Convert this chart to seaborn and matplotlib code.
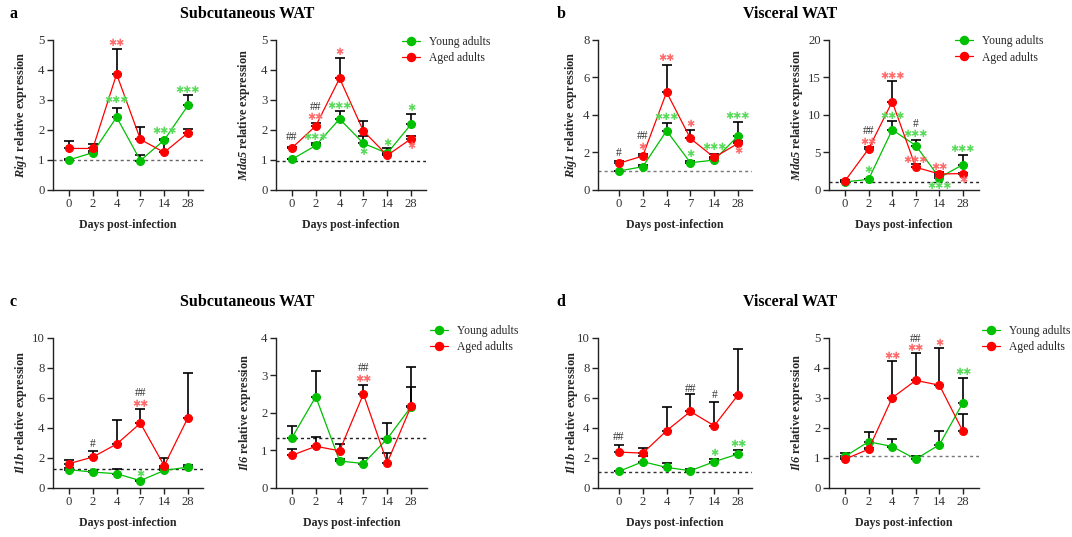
import numpy as np
import pandas as pd
import matplotlib
matplotlib.use("Agg")
import matplotlib.pyplot as plt
from matplotlib.lines import Line2D
import seaborn as sns

sns.set_style("ticks")
plt.rcParams["font.family"] = ["Liberation Serif", "DejaVu Sans"]
plt.rcParams["mathtext.fontset"] = "custom"
plt.rcParams["mathtext.rm"] = "Liberation Serif"
plt.rcParams["mathtext.it"] = "Liberation Serif:italic"
plt.rcParams["mathtext.bf"] = "Liberation Serif:bold"
plt.rcParams["mathtext.bfit"] = "Liberation Serif:italic:bold"

# ---------------------------------------------------------------- data
days = ["0", "2", "4", "7", "14", "28"]
groups = ["Young adults", "Aged adults"]

# Rig1, subcutaneous WAT
rig1_sc_young = [1.00, 1.24, 2.42, 0.98, 1.66, 2.81]
rig1_sc_young_err = [0.02, 0.04, 0.32, 0.17, 0.05, 0.33]
rig1_sc_aged = [1.38, 1.38, 3.85, 1.68, 1.25, 1.90]
rig1_sc_aged_err = [0.26, 0.14, 0.85, 0.40, 0.40, 0.11]
rig1_sc_base = 1.00
rig1_sc_marks = [("4", "**", 4.89, "r"), ("4", "***", 2.99, "g"),
                 ("14", "***", 1.97, "g"), ("28", "***", 3.32, "g")]

# Mda5, subcutaneous WAT
mda5_sc_young = [1.02, 1.48, 2.36, 1.55, 1.22, 2.18]
mda5_sc_young_err = [0.02, 0.09, 0.26, 0.24, 0.16, 0.36]
mda5_sc_aged = [1.40, 2.13, 3.71, 1.96, 1.15, 1.70]
mda5_sc_aged_err = [0.03, 0.10, 0.69, 0.32, 0.05, 0.11]
mda5_sc_base = 0.98
mda5_sc_marks = [("0", "##", 1.77, "h"), ("2", "##", 2.76, "h"), ("2", "**", 2.42, "r"),
                 ("2", "***", 1.77, "g"), ("4", "*", 4.57, "r"), ("4", "***", 2.79, "g"),
                 ("7", "*", 1.26, "g"), ("14", "*", 1.57, "g"), ("28", "*", 2.73, "g"),
                 ("28", "*", 1.46, "r")]

# Rig1, visceral WAT
rig1_v_young = [1.01, 1.24, 3.15, 1.45, 1.59, 2.87]
rig1_v_young_err = [0.02, 0.10, 0.39, 0.10, 0.10, 0.76]
rig1_v_aged = [1.42, 1.81, 5.20, 2.74, 1.73, 2.48]
rig1_v_aged_err = [0.14, 0.08, 1.47, 0.45, 0.18, 0.10]
rig1_v_base = 1.00
rig1_v_marks = [("0", "#", 1.95, "h"), ("2", "##", 2.85, "h"), ("2", "*", 2.30, "r"),
                ("4", "**", 7.03, "r"), ("4", "***", 3.86, "g"), ("7", "*", 3.49, "r"),
                ("7", "*", 1.91, "g"), ("14", "***", 2.30, "g"), ("28", "***", 3.96, "g"),
                ("28", "*", 2.07, "r")]

# Mda5, visceral WAT
mda5_v_young = [1.07, 1.42, 8.00, 5.91, 1.64, 3.38]
mda5_v_young_err = [0.10, 0.10, 1.11, 0.67, 0.20, 1.24]
mda5_v_aged = [1.20, 5.47, 11.73, 3.02, 2.13, 2.18]
mda5_v_aged_err = [0.10, 0.30, 2.76, 0.40, 0.20, 0.10]
mda5_v_base = 1.02
mda5_v_marks = [("2", "##", 7.9, "h"), ("2", "**", 6.44, "r"), ("2", "*", 2.67, "g"),
                ("4", "***", 15.2, "r"), ("4", "***", 9.78, "g"), ("7", "#", 8.75, "h"),
                ("7", "***", 7.38, "g"), ("7", "***", 3.96, "r"), ("14", "**", 3.11, "r"),
                ("14", "***", 0.58, "g"), ("28", "***", 5.47, "g"), ("28", "*", 1.33, "r")]

# Il1b, subcutaneous WAT
il1b_sc_young = [1.22, 1.06, 0.95, 0.49, 1.17, 1.39]
il1b_sc_young_err = [0.10, 0.05, 0.31, 0.05, 0.15, 0.11]
il1b_sc_aged = [1.62, 2.06, 2.92, 4.31, 1.48, 4.69]
il1b_sc_aged_err = [0.26, 0.37, 1.59, 0.93, 0.49, 2.94]
il1b_sc_base = 1.26
il1b_sc_marks = [("2", "#", 2.92, "h"), ("7", "##", 6.30, "h"), ("7", "**", 5.6, "r"),
                 ("7", "*", 0.95, "g")]

# Il6, subcutaneous WAT
il6_sc_young = [1.34, 2.43, 0.72, 0.65, 1.31, 2.16]
il6_sc_young_err = [0.32, 0.69, 0.05, 0.14, 0.43, 1.06]
il6_sc_aged = [0.87, 1.11, 0.99, 2.50, 0.67, 2.17]
il6_sc_aged_err = [0.16, 0.24, 0.17, 0.25, 0.25, 0.53]
il6_sc_base = 1.34
il6_sc_marks = [("7", "##", 3.19, "h"), ("7", "**", 2.89, "r")]

# Il1b, visceral WAT
il1b_v_young = [1.11, 1.75, 1.37, 1.15, 1.75, 2.26]
il1b_v_young_err = [0.05, 0.40, 0.27, 0.13, 0.15, 0.28]
il1b_v_aged = [2.39, 2.32, 3.81, 5.09, 4.14, 6.19]
il1b_v_aged_err = [0.46, 0.31, 1.57, 1.19, 1.61, 3.04]
il1b_v_base = 1.04
il1b_v_marks = [("0", "##", 3.36, "h"), ("7", "##", 6.62, "h"), ("14", "#", 6.22, "h"),
                ("14", "*", 2.32, "g"), ("28", "**", 2.94, "g")]

# Il6, visceral WAT
il6_v_young = [1.05, 1.54, 1.38, 0.96, 1.44, 2.84]
il6_v_young_err = [0.10, 0.31, 0.24, 0.12, 0.47, 0.83]
il6_v_aged = [0.96, 1.29, 3.00, 3.58, 3.42, 1.88]
il6_v_aged_err = [0.05, 0.05, 1.21, 0.90, 1.23, 0.58]
il6_v_base = 1.08
il6_v_marks = [("4", "**", 4.4, "r"), ("7", "##", 4.97, "h"), ("7", "**", 4.65, "r"),
               ("14", "*", 4.83, "r"), ("28", "**", 3.87, "g")]

# ---------------------------------------------------------------- styling
W, H = 1072, 537
GREEN, RED = "#00c000", "#ff0000"
STAR_COLORS = {"g": "#5ada5a", "r": "#ff6a6a", "h": "#333333"}
TICK_COLOR = "#333333"

fig = plt.figure(figsize=(W / 100, H / 100), dpi=100)


def pixel_axes(x0, x1, ytop, ybot):
    return fig.add_axes([x0 / W, 1 - ybot / H, (x1 - x0) / W, (ybot - ytop) / H])


def draw_panel(layout, gene, young, young_err, aged, aged_err, base, marks,
               ymax, ystep, base_color="#444444", legend_at=None):
    ax_x, t0, t1, x_end, ytop, ybot, lab_x = layout
    ax = pixel_axes(ax_x, x_end, ytop, ybot)
    step = (t1 - t0) / (len(days) - 1)

    df = pd.DataFrame({
        "day": days * 2,
        "group": [groups[0]] * len(days) + [groups[1]] * len(days),
        "value": list(young) + list(aged),
    })

    ax.axhline(base, color=base_color, lw=1.0, ls=(0, (2.2, 2.2)), zorder=1)

    xs = np.arange(len(days))
    for vals, errs in ((young, young_err), (aged, aged_err)):
        ax.errorbar(xs, vals, yerr=[np.zeros(len(vals)), errs], fmt="none",
                    ecolor="black", elinewidth=1.2, capsize=3.8, capthick=1.2,
                    zorder=2)

    sns.pointplot(data=df, x="day", y="value", hue="group", order=days,
                  hue_order=groups, palette=[GREEN, RED], markers="o",
                  errorbar=None, dodge=False, legend=False, ax=ax,
                  markersize=5.8, linewidth=0.9)
    for ln in ax.lines:
        if ln.get_marker() == "o":
            ln.set_zorder(3)

    for day, txt, yv, kind in marks:
        xi = days.index(day)
        if kind == "h":
            ax.text(xi, yv, txt, ha="center", va="center", fontsize=8.3,
                    color=STAR_COLORS[kind], zorder=4)
        else:
            ax.text(xi, yv, "\u2731" * len(txt), ha="center", va="center",
                    fontsize=7.0, color=STAR_COLORS[kind],
                    family="DejaVu Sans", zorder=4)

    ax.set_xlim(-(t0 - ax_x) / step, len(days) - 1 + (x_end - t1) / step)
    ax.set_ylim(0, ymax)
    ax.set_yticks(np.arange(0, ymax + 0.001, ystep))
    ax.set_yticklabels([f"{v:g}" for v in np.arange(0, ymax + 0.001, ystep)])
    sns.despine(ax=ax)
    for s in ("left", "bottom"):
        ax.spines[s].set_linewidth(1.0)
        ax.spines[s].set_color("#222222")
    ax.tick_params(axis="both", direction="out", length=4, width=1.0,
                   color="#222222", labelsize=9.2, labelcolor=TICK_COLOR, pad=2)

    width = x_end - ax_x
    height = ybot - ytop
    ax.set_xlabel("Days post-infection", fontsize=8.6, fontweight="bold",
                  va="center")
    ax.xaxis.set_label_coords(0.5, -35 / height)
    ax.set_ylabel(r"$\mathbfit{" + gene + r"}$ relative expression",
                  fontsize=8.8, fontweight="bold", va="center")
    ax.yaxis.set_label_coords((lab_x - ax_x) / width, 0.5)

    if legend_at is not None:
        handles = [Line2D([0], [0], color=c, lw=0.9, marker="o", markersize=5.8)
                   for c in (GREEN, RED)]
        lx, ly = legend_at
        ax.legend(handles, groups, loc="center left",
                  bbox_to_anchor=(lx / W, 1 - ly / H),
                  bbox_transform=fig.transFigure, frameon=False, fontsize=8.4,
                  handlelength=1.55, handletextpad=0.8, borderpad=0,
                  borderaxespad=0, labelspacing=0.35)
    return ax


TOP = (39.5, 190)
BOT = (337.7, 488)

draw_panel((53, 69, 188, 203, *TOP, 21), "Rig1", rig1_sc_young, rig1_sc_young_err,
           rig1_sc_aged, rig1_sc_aged_err, rig1_sc_base, rig1_sc_marks, 5, 1,
           base_color="#666666")
draw_panel((276, 292, 411, 426, *TOP, 244), "Mda5", mda5_sc_young, mda5_sc_young_err,
           mda5_sc_aged, mda5_sc_aged_err, mda5_sc_base, mda5_sc_marks, 5, 1,
           base_color="#222222", legend_at=(402, 50))
draw_panel((598, 619, 738, 752, *TOP, 571), "Rig1", rig1_v_young, rig1_v_young_err,
           rig1_v_aged, rig1_v_aged_err, rig1_v_base, rig1_v_marks, 8, 2,
           base_color="#777777")
draw_panel((829, 845, 963, 979, *TOP, 797), "Mda5", mda5_v_young, mda5_v_young_err,
           mda5_v_aged, mda5_v_aged_err, mda5_v_base, mda5_v_marks, 20, 5,
           base_color="#222222", legend_at=(954.5, 49.5))
draw_panel((53, 69, 188, 203, *BOT, 21), "Il1b", il1b_sc_young, il1b_sc_young_err,
           il1b_sc_aged, il1b_sc_aged_err, il1b_sc_base, il1b_sc_marks, 10, 2,
           base_color="#222222")
draw_panel((276, 292, 411, 427, *BOT, 245), "Il6", il6_sc_young, il6_sc_young_err,
           il6_sc_aged, il6_sc_aged_err, il6_sc_base, il6_sc_marks, 4, 1,
           base_color="#222222", legend_at=(429.5, 339))
draw_panel((598, 619, 738, 752, *BOT, 572), "Il1b", il1b_v_young, il1b_v_young_err,
           il1b_v_aged, il1b_v_aged_err, il1b_v_base, il1b_v_marks, 10, 2,
           base_color="#333333")
draw_panel((829, 845, 963, 979, *BOT, 797), "Il6", il6_v_young, il6_v_young_err,
           il6_v_aged, il6_v_aged_err, il6_v_base, il6_v_marks, 5, 1,
           base_color="#777777", legend_at=(981.5, 339))

# section titles and panel letters
for x, y, txt in [(247.5, 14, "Subcutaneous WAT"), (790, 14, "Visceral WAT"),
                  (247.5, 302, "Subcutaneous WAT"), (790, 302, "Visceral WAT")]:
    fig.text(x / W, 1 - y / H, txt, ha="center", va="center", fontsize=11.5,
             fontweight="bold", color="black")
for x, y, txt in [(13.5, 14, "a"), (561, 14, "b"), (13.5, 302, "c"), (561, 302, "d")]:
    fig.text(x / W, 1 - y / H, txt, ha="center", va="center", fontsize=11.5,
             fontweight="bold", color="black")

fig.savefig("out.png", dpi=100)
